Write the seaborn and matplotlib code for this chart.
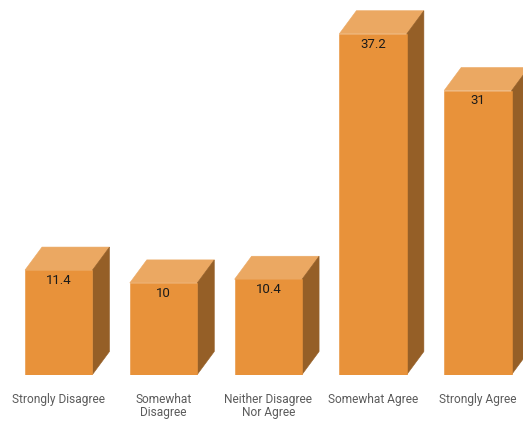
import matplotlib
matplotlib.use("Agg")
import matplotlib.pyplot as plt
from matplotlib.patches import Polygon
import seaborn as sns

categories = ["Strongly Disagree", "Somewhat\nDisagree", "Neither Disagree\nNor Agree",
              "Somewhat Agree", "Strongly Agree"]
values = [11.4, 10, 10.4, 37.2, 31]

FRONT = "#E8923A"
TOP = "#EBA862"
SIDE = "#955F27"
LABEL = "#5b5b5b"

sns.set_theme(style="white")
plt.rcParams["font.family"] = ["Roboto", "DejaVu Sans"]

W, H, DPI = 523, 421, 100
fig = plt.figure(figsize=(W / DPI, H / DPI), dpi=DPI)
fig.patch.set_facecolor("white")

base_px = 46.5
ax = fig.add_axes([0, base_px / H, 1, (H - base_px) / H])
ax.set_facecolor("white")

sns.barplot(x=categories, y=values, color=FRONT, saturation=1, width=0.644,
            edgecolor=FRONT, linewidth=0.4, ax=ax, zorder=3)

xlim = (-0.5606, 4.43)
ylim = (0, 40.88)
ax.set_xlim(*xlim)
ax.set_ylim(*ylim)

# depth of the extruded boxes, in pixels, converted to data units
ax_w_px = W
ax_h_px = H - base_px
dx = 17 / (ax_w_px / (xlim[1] - xlim[0]))
dy = 23 / (ax_h_px / (ylim[1] - ylim[0]))

for bar, v in zip(ax.patches, values):
    x0 = bar.get_x()
    x1 = x0 + bar.get_width()
    h = bar.get_height()
    top = Polygon([(x0, h), (x1, h), (x1 + dx, h + dy), (x0 + dx, h + dy)],
                  closed=True, facecolor=TOP, edgecolor=TOP, linewidth=0.4,
                  zorder=2.9, clip_on=False)
    side = Polygon([(x1, 0), (x1 + dx, dy), (x1 + dx, h + dy), (x1, h)],
                   closed=True, facecolor=SIDE, edgecolor=SIDE, linewidth=0.4,
                   zorder=2.9, clip_on=False)
    ax.add_patch(top)
    ax.add_patch(side)
    ax.annotate(f"{v:g}", xy=((x0 + x1) / 2, h), xytext=(0, -7.5),
                textcoords="offset points", ha="center", va="center",
                fontsize=9.5, color="#1a1a1a", zorder=4)

ax.tick_params(axis="x", length=0, pad=13, labelsize=8.6, labelcolor=LABEL)
ax.set_yticks([])
for s in ax.spines.values():
    s.set_visible(False)
ax.set_xlabel("")
ax.set_ylabel("")
for t in ax.get_xticklabels():
    t.set_linespacing(1.05)

fig.savefig("out.png", dpi=DPI, facecolor="white")
